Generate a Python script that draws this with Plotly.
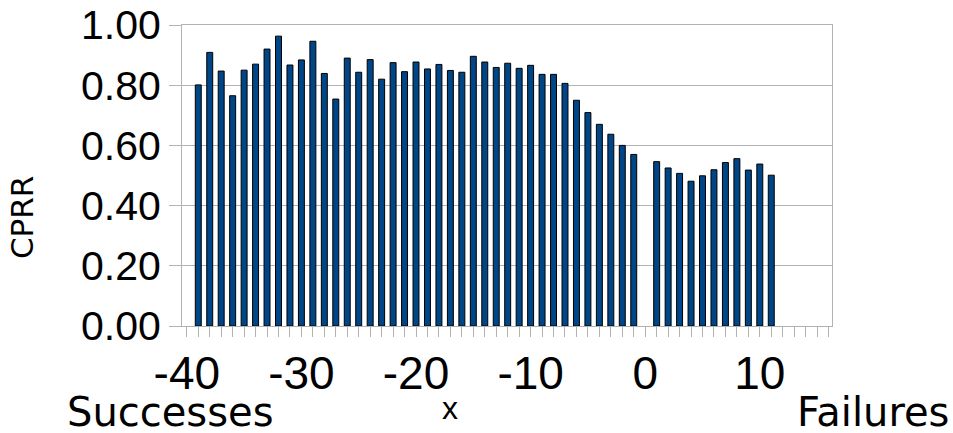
import plotly.graph_objects as go

# CPRR per offset: negative offsets are successes, positive are failures
x_values = list(range(-39, 0)) + list(range(1, 12))
cprr = [
    0.801, 0.909, 0.847, 0.765, 0.850, 0.870, 0.920, 0.963, 0.867, 0.884,
    0.946, 0.839, 0.754, 0.890, 0.843, 0.885, 0.820, 0.875, 0.845, 0.877,
    0.854, 0.869, 0.849, 0.843, 0.896, 0.877, 0.859, 0.873, 0.856, 0.866,
    0.836, 0.836, 0.806, 0.750, 0.709, 0.670, 0.637, 0.600, 0.570,
    0.546, 0.525, 0.507, 0.481, 0.499, 0.519, 0.543, 0.556, 0.518, 0.538, 0.501,
]
x_ticks = [-40, -30, -20, -10, 0, 10]
x_tick_labels = ["-40", "-30", "-20", "-10", "0", "10"]
y_ticks = [0.0, 0.2, 0.4, 0.6, 0.8, 1.0]

GRID = "#b3b3b3"
LABEL_FONT = dict(family="DejaVu Sans", size=40, color="black")

fig = go.Figure(
    go.Bar(
        x=x_values,
        y=cprr,
        width=0.52,
        marker=dict(color="#004586", line=dict(color="black", width=1)),
    )
)

fig.update_layout(
    width=953,
    height=433,
    margin=dict(l=182, r=121, t=25, b=107),
    paper_bgcolor="white",
    plot_bgcolor="white",
    showlegend=False,
    xaxis=dict(
        range=[-40.42, 16.3],
        tickvals=x_ticks,
        ticktext=x_tick_labels,
        ticks="outside",
        ticklen=10,
        tickcolor=GRID,
        minor=dict(dtick=1, tick0=0, ticks="outside", ticklen=10, tickcolor=GRID, showgrid=False),
        showgrid=False,
        showline=True,
        linecolor=GRID,
        linewidth=1,
        mirror=True,
        zeroline=False,
        tickfont=dict(family="Liberation Sans", size=46, color="black"),
        ticklabelstandoff=-3,
        automargin=False,
    ),
    yaxis=dict(
        range=[0, 1.0],
        tickvals=y_ticks,
        tickformat=".2f",
        ticks="outside",
        ticklen=12,
        tickcolor=GRID,
        showgrid=True,
        gridcolor=GRID,
        gridwidth=1,
        showline=True,
        linecolor=GRID,
        linewidth=1,
        mirror=True,
        zeroline=False,
        tickfont=dict(family="Liberation Sans", size=41, color="black"),
        automargin=False,
    ),
    annotations=[
        dict(text="CPRR", textangle=-90, xref="paper", yref="paper",
             x=-0.247, y=0.36, xanchor="center", yanchor="middle",
             showarrow=False, font=dict(family="DejaVu Sans", size=31, color="black")),
        dict(text="x", xref="paper", yref="paper",
             x=(450 - 182) / 650, y=-(408 - 326) / 301, xanchor="center", yanchor="middle",
             showarrow=False, font=dict(family="Liberation Sans", size=32, color="black")),
        dict(text="Successes", xref="paper", yref="paper",
             x=(65 - 182) / 650, y=-(412 - 326) / 301, xanchor="left", yanchor="middle",
             showarrow=False, font=LABEL_FONT),
        dict(text="Failures", xref="paper", yref="paper",
             x=(951 - 182) / 650, y=-(412 - 326) / 301, xanchor="right", yanchor="middle",
             showarrow=False, font=LABEL_FONT),
    ],
)

fig.write_html("out.html")
